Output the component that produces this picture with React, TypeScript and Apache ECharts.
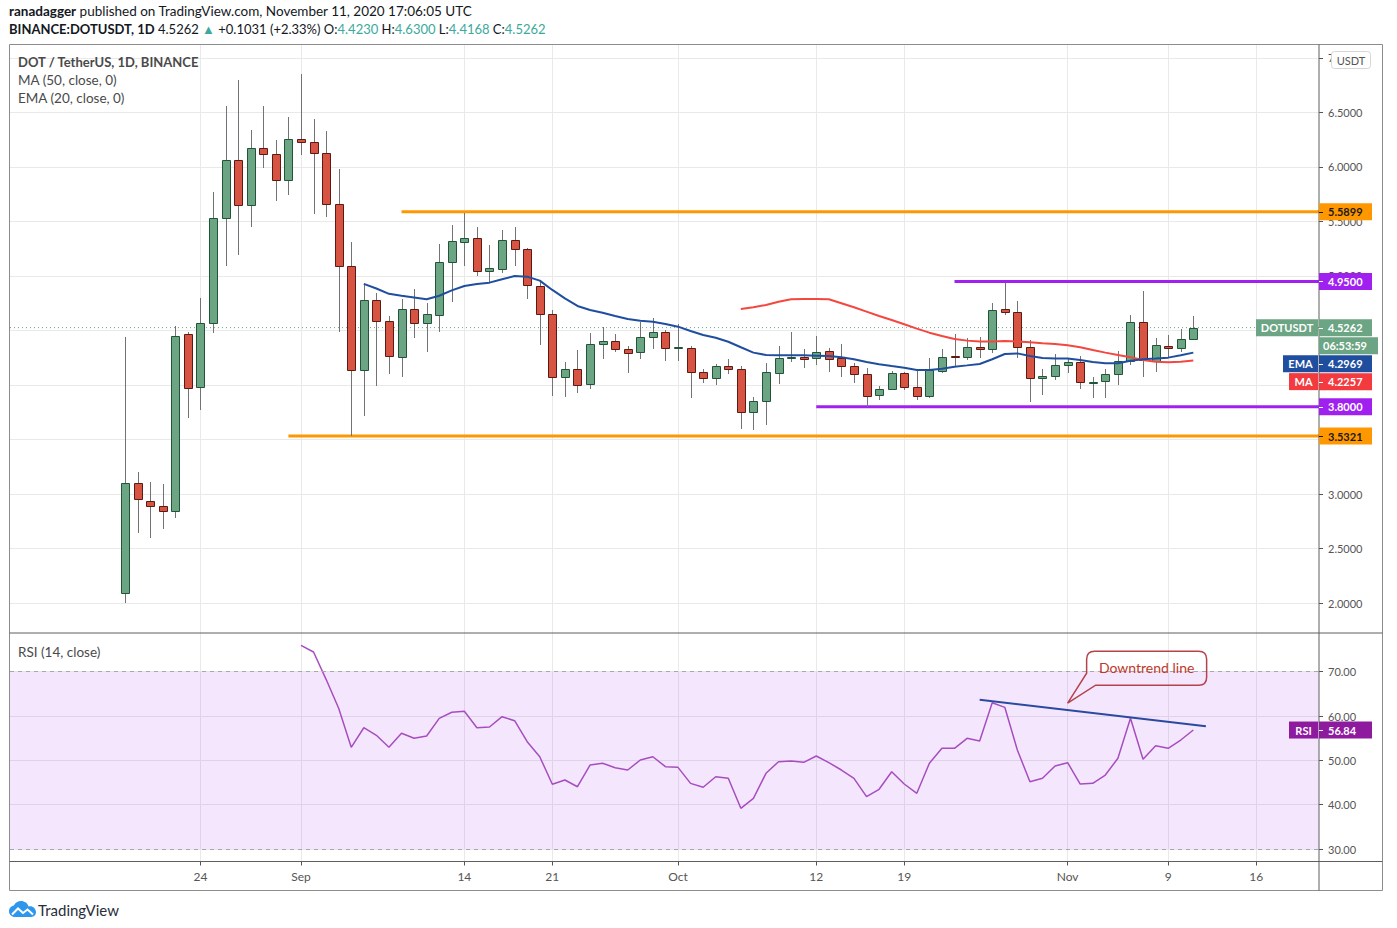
import React, { useEffect, useRef } from "react";
import * as echarts from "echarts";

// ---------------- data ----------------
const dates = [
  "2020-08-18","2020-08-19","2020-08-20","2020-08-21","2020-08-22","2020-08-23","2020-08-24","2020-08-25","2020-08-26","2020-08-27",
  "2020-08-28","2020-08-29","2020-08-30","2020-08-31",
  "2020-09-01","2020-09-02","2020-09-03","2020-09-04","2020-09-05","2020-09-06","2020-09-07","2020-09-08","2020-09-09","2020-09-10",
  "2020-09-11","2020-09-12","2020-09-13","2020-09-14","2020-09-15","2020-09-16","2020-09-17","2020-09-18","2020-09-19","2020-09-20",
  "2020-09-21","2020-09-22","2020-09-23","2020-09-24","2020-09-25","2020-09-26","2020-09-27","2020-09-28","2020-09-29","2020-09-30",
  "2020-10-01","2020-10-02","2020-10-03","2020-10-04","2020-10-05","2020-10-06","2020-10-07","2020-10-08","2020-10-09","2020-10-10",
  "2020-10-11","2020-10-12","2020-10-13","2020-10-14","2020-10-15","2020-10-16","2020-10-17","2020-10-18","2020-10-19","2020-10-20",
  "2020-10-21","2020-10-22","2020-10-23","2020-10-24","2020-10-25","2020-10-26","2020-10-27","2020-10-28","2020-10-29","2020-10-30",
  "2020-10-31",
  "2020-11-01","2020-11-02","2020-11-03","2020-11-04","2020-11-05","2020-11-06","2020-11-07","2020-11-08","2020-11-09","2020-11-10",
  "2020-11-11",
];

const opens = [
  2.09,3.10,2.94,2.89,2.84,4.47,3.98,4.57,5.53,6.06,
  5.65,6.17,6.12,5.88,6.26,6.23,6.13,5.66,5.09,4.14,
  4.78,4.59,4.26,4.70,4.57,4.64,5.13,5.31,5.35,5.05,
  5.06,5.33,5.25,4.91,4.65,4.07,4.15,4.01,4.38,4.40,
  4.33,4.30,4.44,4.49,4.34,4.34,4.12,4.06,4.17,4.15,
  3.75,3.85,4.11,4.25,4.26,4.25,4.31,4.25,4.17,4.10,
  3.91,3.96,4.11,3.98,3.90,4.13,4.265,4.26,4.35,4.33,
  4.70,4.67,4.35,4.06,4.08,4.18,4.21,4.02,4.04,4.10,
  4.22,4.58,4.22,4.36,4.34,4.4230,
];
const closes = [
  3.10,2.95,2.89,2.84,4.45,3.97,4.57,5.53,6.06,5.65,
  6.17,6.12,5.88,6.26,6.23,6.13,5.66,5.09,4.14,4.78,
  4.59,4.27,4.70,4.57,4.65,5.13,5.32,5.35,5.05,5.07,
  5.33,5.25,4.92,4.65,4.07,4.15,4.00,4.38,4.40,4.33,
  4.29,4.44,4.49,4.34,4.345,4.12,4.06,4.17,4.15,3.75,
  3.85,4.12,4.25,4.26,4.24,4.30,4.24,4.17,4.10,3.90,
  3.96,4.11,3.98,3.90,4.14,4.26,4.255,4.35,4.33,4.69,
  4.67,4.35,4.06,4.08,4.18,4.21,4.03,4.03,4.10,4.22,
  4.58,4.23,4.37,4.34,4.42,4.5262,
];
const highs = [
  4.44,3.20,3.11,3.09,4.54,4.49,4.80,5.77,6.56,6.80,
  6.34,6.56,6.25,6.46,6.85,6.44,6.33,5.98,5.31,4.92,
  4.84,4.63,4.79,4.88,4.75,5.29,5.47,5.58,5.45,5.28,
  5.42,5.45,5.26,4.95,4.69,4.21,4.32,4.48,4.53,4.47,
  4.36,4.58,4.61,4.50,4.56,4.36,4.15,4.19,4.24,4.17,
  3.89,4.20,4.36,4.49,4.33,4.45,4.34,4.38,4.20,4.16,
  3.99,4.13,4.12,4.14,4.25,4.33,4.47,4.43,4.44,4.75,
  4.94,4.77,4.41,4.15,4.28,4.25,4.27,4.07,4.15,4.31,
  4.64,4.86,4.43,4.46,4.51,4.6300,
];
const lows = [
  2.00,2.64,2.60,2.68,2.78,3.70,3.77,4.48,5.09,5.19,
  5.45,5.99,5.69,5.74,6.11,5.57,5.54,4.49,3.53,3.72,
  3.99,4.10,4.07,4.43,4.30,4.49,4.76,5.09,5.00,4.94,
  5.03,5.09,4.79,4.37,3.90,3.89,3.93,3.96,4.24,4.30,
  4.11,4.24,4.33,4.22,4.22,3.88,4.02,4.00,4.10,3.60,
  3.59,3.63,4.01,4.21,4.16,4.18,4.12,4.07,4.02,3.80,
  3.86,3.95,3.95,3.86,3.88,4.11,4.17,4.23,4.25,4.29,
  4.64,4.25,3.84,3.91,4.05,4.11,3.96,3.88,3.88,4.00,
  4.18,4.07,4.12,4.25,4.30,4.4168,
];

const ema20Start = "2020-09-06";
const ema20 = [
  4.928,4.885,4.836,4.819,4.803,4.786,4.819,4.868,4.908,4.927,4.939,
  4.970,5.000,4.994,4.957,4.872,4.795,4.725,4.688,4.663,4.633,
  4.606,4.590,4.581,4.560,4.535,4.495,4.459,4.434,4.397,4.346,
  4.297,4.275,4.272,4.272,4.272,4.269,4.266,4.254,4.236,4.211,
  4.190,4.174,4.159,4.138,4.138,4.150,4.168,4.180,4.193,4.236,
  4.284,4.290,4.266,4.248,4.242,4.242,4.229,4.211,4.199,4.199,
  4.223,4.236,4.242,4.251,4.272,4.2969,
];

const ma50Start = "2020-10-06";
const ma50 = [
  4.697,4.713,4.734,4.764,4.786,4.789,4.789,4.786,4.750,4.713,4.673,
  4.633,4.596,4.557,4.517,4.480,4.450,4.422,4.407,4.400,4.400,
  4.404,4.400,4.391,4.382,4.376,4.364,4.346,4.321,4.297,4.275,
  4.254,4.229,4.214,4.208,4.214,4.2257,
];

const rsi14Start = "2020-09-01";
const rsi14 = [
  75.95,74.44,68.28,61.74,52.94,57.36,55.65,52.94,56.10,54.97,
  55.49,59.48,60.84,61.06,57.36,57.52,59.85,58.94,54.20,50.82,
  44.60,45.57,44.05,48.95,49.33,48.34,47.82,50.08,50.82,48.57,
  48.42,44.80,43.92,46.31,45.95,39.18,41.44,47.08,49.70,49.85,
  49.55,50.98,49.47,47.82,45.95,41.80,43.47,47.44,44.66,42.56,
  49.33,52.71,52.71,54.97,54.36,63.00,61.96,52.33,45.18,45.95,
  48.72,49.47,44.66,44.82,46.69,50.46,59.48,50.23,53.30,52.71,
  54.59,56.84,
];

const timeTickDates = ["2020-08-24","2020-09-01","2020-09-14","2020-09-21","2020-10-01","2020-10-12","2020-10-19","2020-11-01","2020-11-09","2020-11-16"];
const timeTickLabels = ["24","Sep","14","21","Oct","12","19","Nov","9","16"];
const priceTicks = [2, 2.5, 3, 3.5, 4, 4.5, 5, 5.5, 6, 6.5, 7];
// price labels that are not hidden behind the axis tags
const priceTickLabels = [2, 2.5, 3, 5, 5.5, 6, 6.5, 7];
const rsiTicks = [30, 40, 50, 60, 70];

const levelPrices = [5.5899, 4.95, 3.8, 3.5321];
const levelFrom = ["2020-09-09", "2020-10-23", "2020-10-12", "2020-08-31"];
const levelIsOrange = [true, false, false, true];

const rsiBand = [30, 70];
const trendDates = ["2020-10-25", "2020-11-12"];
const trendRsi = [63.65, 57.7];
const calloutDate = "2020-11-01";
const calloutRsi = 62.9;
const countdown = "06:53:59";

// visible window, in days from 2020-09-01
const X_MIN = -23.15;
const X_MAX = 81.0;
const PRICE_RANGE = [1.725, 7.128];
const RSI_RANGE = [27.18, 78.73];

// ---------------- styles ----------------
const FONT = "Lato, 'Open Sans', sans-serif";
const UP = "#6ba583", UP_BORDER = "#225437", DOWN = "#d75442", DOWN_BORDER = "#5b1a13", WICK = "#737375";
const EMA_COLOR = "#1f4e9f", MA_COLOR = "#f4473f", RSI_COLOR = "#a64ebf", TREND_COLOR = "#2b49a0";
const ORANGE = "#ff9800", PURPLE = "#a020f0", RSI_TAG = "#8e1a9e", MA_TAG = "#f23a3f";
const GRID = "#e9e9e9", AXIS_TEXT = "#555555", FRAME = "#8d8d8d", DIVIDER = "#5f5f5f";
const TEAL = "#3ba99c";

const DAY0 = Date.parse("2020-09-01");
const dayOf = (s: string) => (Date.parse(s) - DAY0) / 86400000;

echarts.graphic.registerShape(
  "callout",
  echarts.graphic.extendPath(
    "M28 -18 L131 -18 Q139 -18 139 -26 L139 -44 Q139 -52 131 -52 L27 -52 Q19 -52 19 -44 L19 -30 L0 0 Z",
    {}
  )
);
echarts.graphic.registerShape(
  "tvcloud",
  echarts.graphic.extendPath(
    "M6 16 C2.7 16 0 13.3 0 10.2 C0 7.3 2.1 4.9 4.9 4.4 C6.3 1.8 8.9 0 12 0 C15.6 0 18.6 2.3 19.6 5.5 C20.1 5.4 20.5 5.3 21 5.3 C24.3 5.3 27 8 27 11.3 C27 13.9 24.9 16 22.2 16 Z",
    {}
  )
);

function fromStart(start: string, vals: number[]) {
  const i0 = dates.indexOf(start);
  return vals.map((v, i) => [dayOf(dates[i0 + i]), v]);
}

function buildOption() {
  const candleData = dates.map((d, i) => [dayOf(d), opens[i], closes[i], lows[i], highs[i]]);
  const tickDays = timeTickDates.map(dayOf);
  const tickLabel = (v: number) => {
    const i = tickDays.findIndex((t) => Math.abs(t - v) < 0.01);
    return i >= 0 ? timeTickLabels[i] : "";
  };
  const lastClose = closes[closes.length - 1];

  const levelSeries = levelPrices.map((p, i) => ({
    type: "line",
    xAxisIndex: 0,
    yAxisIndex: 0,
    data: [[dayOf(levelFrom[i]), p], [X_MAX, p]],
    symbol: "none",
    showSymbol: false,
    silent: true,
    z: 3,
    lineStyle: { color: levelIsOrange[i] ? ORANGE : PURPLE, width: 3 },
  }));

  const hiddenLine = { show: false, onZero: false };

  return {
    animation: false,
    backgroundColor: "#ffffff",
    textStyle: { fontFamily: FONT },
    grid: [
      { left: 10, right: 78, top: 44, height: 589, outerBoundsMode: "none", containLabel: false },
      { left: 10, right: 78, top: 633, height: 228.5, outerBoundsMode: "none", containLabel: false },
    ],
    xAxis: [
      {
        type: "value", gridIndex: 0, min: X_MIN, max: X_MAX,
        axisLine: hiddenLine,
        axisTick: { show: false, customValues: tickDays },
        axisLabel: { show: false, customValues: tickDays },
        splitLine: { show: true, lineStyle: { color: GRID, width: 1 } },
      },
      {
        type: "value", gridIndex: 1, min: X_MIN, max: X_MAX,
        axisLine: hiddenLine,
        axisTick: { show: true, customValues: tickDays, length: 4, lineStyle: { color: AXIS_TEXT } },
        axisLabel: {
          show: true, customValues: tickDays, formatter: tickLabel,
          color: AXIS_TEXT, fontSize: 12, fontFamily: FONT, margin: 9,
        },
        splitLine: { show: true, lineStyle: { color: GRID, width: 1 } },
      },
    ],
    yAxis: [
      {
        type: "value", gridIndex: 0, position: "right", min: PRICE_RANGE[0], max: PRICE_RANGE[1],
        axisLine: hiddenLine,
        axisTick: { show: true, customValues: priceTicks, length: 4, lineStyle: { color: AXIS_TEXT } },
        axisLabel: {
          customValues: priceTickLabels, formatter: (v: number) => v.toFixed(4),
          color: AXIS_TEXT, fontSize: 11, fontFamily: FONT, margin: 9,
        },
        splitLine: { show: true, lineStyle: { color: GRID, width: 1 } },
      },
      {
        type: "value", gridIndex: 1, position: "right", min: RSI_RANGE[0], max: RSI_RANGE[1],
        axisLine: hiddenLine,
        axisTick: { show: true, customValues: rsiTicks, length: 4, lineStyle: { color: AXIS_TEXT } },
        axisLabel: {
          customValues: rsiTicks, formatter: (v: number) => v.toFixed(2),
          color: AXIS_TEXT, fontSize: 11, fontFamily: FONT, margin: 9,
        },
        splitLine: { show: true, lineStyle: { color: GRID, width: 1 } },
      },
    ],
    series: [
      {
        type: "line", xAxisIndex: 0, yAxisIndex: 0, silent: true, z: 1,
        data: [[X_MIN, lastClose], [X_MAX, lastClose]],
        symbol: "none", showSymbol: false,
        lineStyle: { color: UP, width: 1, type: [1, 3] },
      },
      ...levelSeries,
      {
        type: "custom", xAxisIndex: 0, yAxisIndex: 0, z: 4, silent: true,
        data: candleData,
        encode: { x: 0, y: [1, 2, 3, 4] },
        renderItem: (_params: any, api: any) => {
          const x = api.value(0), o = api.value(1), c = api.value(2), l = api.value(3), h = api.value(4);
          const pO = api.coord([x, o]);
          const pC = api.coord([x, c]);
          const pL = api.coord([x, l]);
          const pH = api.coord([x, h]);
          const up = c >= o;
          const cx = Math.round(pO[0]);
          const top = Math.round(Math.min(pO[1], pC[1])) + 0.5;
          const bot = Math.round(Math.max(pO[1], pC[1])) + 0.5;
          return {
            type: "group",
            children: [
              {
                type: "line",
                shape: { x1: cx + 0.5, y1: Math.round(pH[1]), x2: cx + 0.5, y2: Math.round(pL[1]) },
                style: { stroke: WICK, lineWidth: 1 },
              },
              {
                type: "rect",
                shape: { x: cx - 3.5, y: top, width: 8, height: Math.max(bot - top, 1) },
                style: { fill: up ? UP : DOWN, stroke: up ? UP_BORDER : DOWN_BORDER, lineWidth: 1 },
              },
            ],
          };
        },
      },
      {
        type: "line", xAxisIndex: 0, yAxisIndex: 0, z: 6, silent: true,
        data: fromStart(ma50Start, ma50), symbol: "none", showSymbol: false,
        lineStyle: { color: MA_COLOR, width: 2 },
      },
      {
        type: "line", xAxisIndex: 0, yAxisIndex: 0, z: 6, silent: true,
        data: fromStart(ema20Start, ema20), symbol: "none", showSymbol: false,
        lineStyle: { color: EMA_COLOR, width: 2 },
      },
      {
        type: "line", xAxisIndex: 1, yAxisIndex: 1, z: 3, silent: true,
        data: fromStart(rsi14Start, rsi14), symbol: "none", showSymbol: false,
        lineStyle: { color: RSI_COLOR, width: 1.5 },
        markArea: {
          silent: true,
          itemStyle: { color: "rgba(156, 39, 235, 0.11)" },
          data: [[{ yAxis: rsiBand[0] }, { yAxis: rsiBand[1] }]],
        },
        markLine: {
          silent: true, symbol: ["none", "none"], label: { show: false },
          lineStyle: { color: "#a8a6b0", type: [4, 4], width: 1 },
          data: [{ yAxis: rsiBand[1] }, { yAxis: rsiBand[0] }],
        },
      },
      {
        type: "line", xAxisIndex: 1, yAxisIndex: 1, z: 5, silent: true,
        data: trendDates.map((d, i) => [dayOf(d), trendRsi[i]]),
        symbol: "none", showSymbol: false,
        lineStyle: { color: TREND_COLOR, width: 2 },
      },
    ],
  };
}

function buildGraphics(chart: any) {
  const AX = chart.convertToPixel({ xAxisIndex: 0 }, X_MAX) as number;
  const py = (v: number) => chart.convertToPixel({ yAxisIndex: 0 }, v) as number;
  const ry = (v: number) => chart.convertToPixel({ yAxisIndex: 1 }, v) as number;
  const BOX_H = 17;
  const els: any[] = [];

  const text = (x: number, y: number, t: string, extra: any = {}) => ({
    type: "text", x, y, z: 70,
    style: { text: t, fill: "#131722", fontSize: 13, fontFamily: FONT, align: "left", verticalAlign: "middle", ...extra },
  });

  const valueTag = (cy: number, t: string, bg: string, fg: string, width = 53) => {
    els.push({ type: "rect", z: 60, shape: { x: AX, y: cy - BOX_H / 2, width, height: BOX_H }, style: { fill: bg } });
    els.push({ type: "line", z: 61, shape: { x1: AX, y1: Math.round(cy) + 0.5, x2: AX + 4, y2: Math.round(cy) + 0.5 }, style: { stroke: fg, lineWidth: 1 } });
    els.push(text(AX + 9, cy, t, { fill: fg, fontSize: 11, fontWeight: "bold" }));
  };
  const nameTag = (cy: number, t: string, bg: string, fg: string, width: number) => {
    els.push({ type: "rect", z: 60, shape: { x: AX - 1 - width, y: cy - BOX_H / 2, width, height: BOX_H }, style: { fill: bg } });
    els.push(text(AX - 1 - width / 2, cy, t, { fill: fg, fontSize: 11, fontWeight: "bold", align: "center" }));
  };

  // frame
  els.push({ type: "rect", z: 50, shape: { x: 9.5, y: 44.5, width: 1373, height: 846 }, style: { fill: "none", stroke: FRAME, lineWidth: 1 } });
  els.push({ type: "line", z: 50, shape: { x1: 9.5, y1: 633, x2: 1382.5, y2: 633 }, style: { stroke: DIVIDER, lineWidth: 1 } });
  els.push({ type: "line", z: 50, shape: { x1: 9.5, y1: 861.5, x2: 1382.5, y2: 861.5 }, style: { stroke: DIVIDER, lineWidth: 1 } });
  els.push({ type: "line", z: 50, shape: { x1: AX, y1: 44.5, x2: AX, y2: 890.5 }, style: { stroke: DIVIDER, lineWidth: 1 } });

  // header
  els.push({
    type: "text", x: 9, y: 11, z: 70,
    style: {
      text: "{b|ranadagger} published on TradingView.com, November 11, 2020 17:06:05 UTC",
      fill: "#131722", fontSize: 13.5, fontFamily: FONT, verticalAlign: "middle",
      rich: { b: { fontWeight: "bold", fontSize: 13.5, fontFamily: FONT, fill: "#131722" } },
    },
  });
  const o = opens[opens.length - 1], h = highs[highs.length - 1], l = lows[lows.length - 1], c = closes[closes.length - 1];
  els.push({
    type: "text", x: 9, y: 29, z: 70,
    style: {
      text: `{b|BINANCE:DOTUSDT, 1D} ${c.toFixed(4)} {g|▲} +0.1031 (+2.33%) O:{g|${o.toFixed(4)}} H:{g|${h.toFixed(4)}} L:{g|${l.toFixed(4)}} C:{g|${c.toFixed(4)}}`,
      fill: "#131722", fontSize: 13, fontFamily: FONT, verticalAlign: "middle",
      rich: {
        b: { fontWeight: "bold", fontSize: 13, fontFamily: FONT, fill: "#131722" },
        g: { fontSize: 13, fontFamily: FONT, fill: TEAL },
      },
    },
  });

  // legends
  els.push(text(18, 62, "DOT / TetherUS, 1D, BINANCE", { fill: "#4a4a4a", fontWeight: "bold" }));
  els.push(text(18, 80, "MA (50, close, 0)", { fill: "#4a4a4a", fontSize: 13.5 }));
  els.push(text(18, 98, "EMA (20, close, 0)", { fill: "#4a4a4a", fontSize: 13.5 }));
  els.push(text(18, 652, "RSI (14, close)", { fill: "#4a4a4a", fontSize: 13.5 }));

  // USDT badge
  els.push({ type: "rect", z: 60, shape: { x: 1331.5, y: 51.5, width: 39, height: 17, r: 3 }, style: { fill: "#ffffff", stroke: "#d6d6d6", lineWidth: 1 } });
  els.push(text(1351, 60, "USDT", { fill: AXIS_TEXT, fontSize: 11, align: "center" }));

  // level tags
  levelPrices.forEach((p, i) => {
    valueTag(py(p), p.toFixed(4), levelIsOrange[i] ? ORANGE : PURPLE, levelIsOrange[i] ? "#1a1a1a" : "#ffffff");
  });

  // price / countdown / EMA / MA tags (stacked like TradingView resolves overlaps)
  const lastClose = closes[closes.length - 1];
  const lastEma = ema20[ema20.length - 1];
  const lastMa = ma50[ma50.length - 1];
  const priceY = py(lastClose);
  const cdY = priceY + BOX_H + 1;
  const emaY = Math.max(py(lastEma), cdY + BOX_H + 1);
  const maY = Math.max(py(lastMa), emaY + BOX_H + 1);
  nameTag(priceY, "DOTUSDT", UP, "#ffffff", 62);
  valueTag(priceY, lastClose.toFixed(4), UP, "#ffffff");
  els.push({ type: "rect", z: 60, shape: { x: AX, y: cdY - BOX_H / 2, width: 59, height: BOX_H }, style: { fill: UP } });
  els.push(text(AX + 4, cdY, countdown, { fill: "#ffffff", fontSize: 11, fontWeight: "bold" }));
  nameTag(emaY, "EMA", EMA_COLOR, "#ffffff", 35);
  valueTag(emaY, lastEma.toFixed(4), EMA_COLOR, "#ffffff");
  nameTag(maY, "MA", MA_TAG, "#ffffff", 29);
  valueTag(maY, lastMa.toFixed(4), MA_TAG, "#ffffff");

  // RSI tag
  const lastRsi = rsi14[rsi14.length - 1];
  nameTag(ry(lastRsi), "RSI", RSI_TAG, "#ffffff", 29);
  valueTag(ry(lastRsi), lastRsi.toFixed(2), RSI_TAG, "#ffffff");

  // callout
  const tip = chart.convertToPixel({ gridIndex: 1 }, [dayOf(calloutDate), calloutRsi]) as number[];
  els.push({ type: "callout", z: 65, x: tip[0], y: tip[1], style: { fill: "none", stroke: "#b5434c", lineWidth: 1.5 } });
  els.push(text(tip[0] + 79, tip[1] - 36, "Downtrend line", { fill: "#c0392b", fontSize: 14, align: "center" }));

  // TradingView logo
  els.push({ type: "tvcloud", z: 70, x: 9, y: 901, style: { fill: "#2f96ee" } });
  els.push({ type: "polyline", z: 71, shape: { points: [[3, 13.5], [9, 7.5], [14, 12], [18.5, 8.5], [24, 13.5]] }, x: 9, y: 901, style: { stroke: "#ffffff", lineWidth: 2, fill: "none" } });
  els.push(text(38, 910, "TradingView", { fill: "#2a2e39", fontSize: 15 }));

  return { elements: els };
}

export default function App() {
  const ref = useRef<HTMLDivElement>(null);
  useEffect(() => {
    document.body.style.margin = "0";
    const chart = echarts.init(ref.current as HTMLDivElement, undefined, { renderer: "svg" });
    chart.setOption(buildOption() as any);
    chart.setOption({ graphic: buildGraphics(chart) } as any);
    return () => chart.dispose();
  }, []);
  return (
    <div
      ref={ref}
      style={{ position: "absolute", left: 0, top: 0, width: 1397, height: 928, background: "#ffffff" }}
    />
  );
}
